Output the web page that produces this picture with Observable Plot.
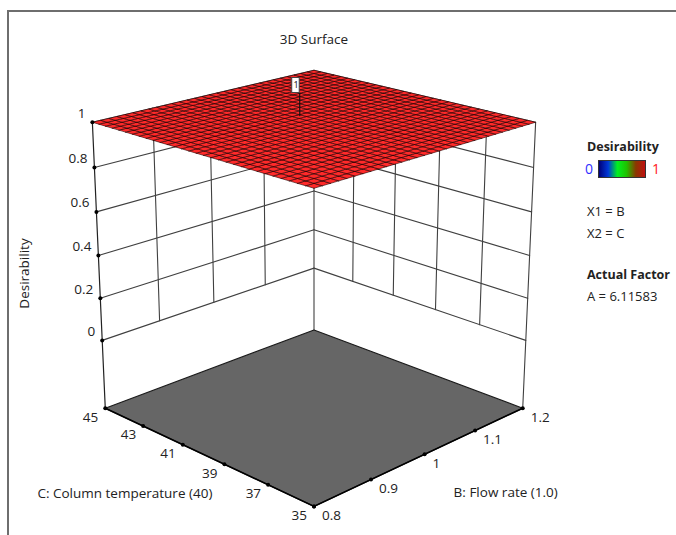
<!DOCTYPE html>
<html><head><meta charset="utf-8">
<script src="https://cdn.jsdelivr.net/npm/d3@7"></script>
<script src="https://cdn.jsdelivr.net/npm/@observablehq/plot@0.6"></script>
<style>
body{margin:0;background:#fff;overflow:hidden;font-family:"Open Sans",sans-serif;}
#wrap{position:relative;width:676px;height:535px;overflow:hidden;}
#frame{position:absolute;left:7px;top:10px;width:720px;height:620px;border:2px solid #6e6e6e;box-sizing:border-box;}
#chart{position:absolute;left:0;top:0;}
.lg{position:absolute;font-size:13px;color:#222;white-space:nowrap;line-height:16px;}
</style></head><body>
<div id="wrap"><div id="frame"></div><div id="chart"></div></div>
<script>
// ---------------- data ----------------
const chartTitle = "3D Surface";
const bTicks = [0.8, 0.9, 1.0, 1.1, 1.2];
const bTickLabels = ["0.8", "0.9", "1", "1.1", "1.2"];
const cTicks = [45, 43, 41, 39, 37, 35];
const cTickLabels = ["45", "43", "41", "39", "37", "35"];
const zTicks = [0, 0.2, 0.4, 0.6, 0.8, 1];
const zTickLabels = ["0", "0.2", "0.4", "0.6", "0.8", "1"];
const bAxisTitle = "B: Flow rate (1.0)";
const cAxisTitle = "C: Column temperature (40)";
const zAxisTitle = "Desirability";
const surfaceDesirability = 1;        // the response is flat at 1 over the whole B x C region
const meshIntervals = 30;             // surface mesh resolution
const flagPoint = {b: 1.01, c: 40.9, value: 1, label: "1"};
const legendTitle = "Desirability";
const legendLow = "0", legendHigh = "1";
const legendStops = ["#00007a", "#0038d8", "#00f020", "#20c000", "#8a3800", "#c01010"];
const factorLines = ["X1 = B", "X2 = C"];
const actualFactorTitle = "Actual Factor";
const actualFactors = [{name: "A", value: 6.11583}];

// ---------------- 3D projection (perspective camera) ----------------
const Bmin = d3.min(bTicks), Bmax = d3.max(bTicks);
const Cmin = d3.min(cTicks), Cmax = d3.max(cTicks);
const zTop = d3.max(zTicks), zFloor = -0.33;
const cam = {elev: 20 * Math.PI / 180, dist: 5.7, focal: 1733, cx: 313.5, cy: 269};
function project(b, c, z) {
  const X = (b - Bmin) / (Bmax - Bmin) - 0.5;
  const Y = (c - Cmin) / (Cmax - Cmin) - 0.5;
  const Z = (z - zFloor) / (zTop - zFloor) - 0.5;
  const a = (X - Y) / Math.SQRT2, d = (X + Y) / Math.SQRT2;
  const s = Math.sin(cam.elev), co = Math.cos(cam.elev);
  const depth = cam.dist + d * co - Z * s;
  return [cam.cx + cam.focal * a / depth, cam.cy - cam.focal * (d * s + Z * co) / depth];
}
const pt = (b, c, z, extra = {}) => { const [x, y] = project(b, c, z); return {x, y, ...extra}; };

// walls
const wall = []; let wid = 0;
for (const z of zTicks) { wall.push(pt(Bmin, Cmax, z, {id: wid}), pt(Bmax, Cmax, z, {id: wid})); wid++; }
for (const b of bTicks.slice(1, -1)) { wall.push(pt(b, Cmax, 0, {id: wid}), pt(b, Cmax, zTop, {id: wid})); wid++; }
for (const z of zTicks) { wall.push(pt(Bmax, Cmax, z, {id: wid}), pt(Bmax, Cmin, z, {id: wid})); wid++; }
for (const c of cTicks.slice(1, -1)) { wall.push(pt(Bmax, c, 0, {id: wid}), pt(Bmax, c, zTop, {id: wid})); wid++; }
for (const [b, c] of [[Bmax, Cmax], [Bmax, Cmin]]) { wall.push(pt(b, c, zFloor, {id: wid}), pt(b, c, zTop, {id: wid})); wid++; }
const zAxisLine = [pt(Bmin, Cmax, zFloor), pt(Bmin, Cmax, zTop)];

// floor
const floor = [[Bmin, Cmin], [Bmax, Cmin], [Bmax, Cmax], [Bmin, Cmax], [Bmin, Cmin]].map(([b, c]) => pt(b, c, zFloor));
const floorFront = [pt(Bmin, Cmax, zFloor), pt(Bmin, Cmin, zFloor), pt(Bmax, Cmin, zFloor)];

// surface cells
const cells = [];
for (let i = 0; i < meshIntervals; i++) for (let j = 0; j < meshIntervals; j++) {
  const b0 = Bmin + (Bmax - Bmin) * i / meshIntervals, b1 = Bmin + (Bmax - Bmin) * (i + 1) / meshIntervals;
  const c0 = Cmin + (Cmax - Cmin) * j / meshIntervals, c1 = Cmin + (Cmax - Cmin) * (j + 1) / meshIntervals;
  const id = i * meshIntervals + j, z = surfaceDesirability;
  for (const [b, c] of [[b0, c0], [b1, c0], [b1, c1], [b0, c1], [b0, c0]]) cells.push(pt(b, c, z, {id, v: z}));
}

// ticks
const zTickPts = zTicks.map((z, i) => pt(Bmin, Cmax, z, {label: zTickLabels[i]}));
const cTickPts = cTicks.map((c, i) => pt(Bmin, c, zFloor, {label: cTickLabels[i]}));
const bTickPts = bTicks.map((b, i) => pt(b, Cmin, zFloor, {label: bTickLabels[i]}));

// flag
const flagBase = pt(flagPoint.b, flagPoint.c, flagPoint.value);
const flagTop = pt(flagPoint.b, flagPoint.c, flagPoint.value + 0.1);
const flagStem = [flagBase, flagTop];
const flagBox = [{x1: flagTop.x - 7.5, x2: flagTop.x, y1: flagTop.y - 15, y2: flagTop.y, label: flagPoint.label}];

const txt = {fontSize: 13.5, fill: "#222", fontFamily: "Open Sans"};
const chart = Plot.plot({
  width: 676, height: 535, margin: 0,
  x: {type: "identity", axis: null}, y: {type: "identity", axis: null},
  style: {background: "transparent", overflow: "visible"},
  marks: [
    Plot.line(wall, {x: "x", y: "y", z: "id", stroke: "#404040", strokeWidth: 1.1}),
    Plot.line(zAxisLine, {x: "x", y: "y", stroke: "#222", strokeWidth: 1.2}),
    Plot.line(floor, {x: "x", y: "y", fill: "#666666", stroke: "#1a1a1a", strokeWidth: 1.2}),
    Plot.line(floorFront, {x: "x", y: "y", stroke: "#000", strokeWidth: 1.6}),
    Plot.line(cells, {x: "x", y: "y", z: "id", fill: "#ff2a2a", stroke: "#200000", strokeWidth: 0.6}),
    Plot.line(flagStem, {x: "x", y: "y", stroke: "#111", strokeWidth: 1.2}),
    Plot.rect(flagBox, {x1: "x1", x2: "x2", y1: "y1", y2: "y2", fill: "white", stroke: "#444", strokeWidth: 1}),
    Plot.text(flagBox, {x: d => (d.x1 + d.x2) / 2, y: d => (d.y1 + d.y2) / 2, text: "label", fontSize: 9, fill: "#222"}),
    Plot.dot(zTickPts, {x: "x", y: "y", r: 2, fill: "#000"}),
    Plot.dot(cTickPts, {x: "x", y: "y", r: 2, fill: "#000"}),
    Plot.dot(bTickPts, {x: "x", y: "y", r: 2, fill: "#000"}),
    Plot.text(zTickPts, {x: "x", y: "y", text: "label", textAnchor: "end", dx: -7, dy: -9, ...txt}),
    Plot.text(cTickPts, {x: "x", y: "y", text: "label", textAnchor: "end", dx: -7, dy: 9, ...txt}),
    Plot.text(bTickPts, {x: "x", y: "y", text: "label", textAnchor: "start", dx: 8, dy: 9, ...txt}),
    Plot.text([pt(Bmin, (Cmin + Cmax) / 2, zFloor, {t: cAxisTitle})], {x: "x", y: "y", text: "t", textAnchor: "end", dx: 9, dy: 39, ...txt}),
    Plot.text([pt((Bmin + Bmax) / 2, Cmin, zFloor, {t: bAxisTitle})], {x: "x", y: "y", text: "t", textAnchor: "start", dx: 29, dy: 38, ...txt}),
    Plot.text([pt(Bmin, Cmax, (zFloor + zTop) / 2, {t: zAxisTitle})], {x: "x", y: "y", text: "t", rotate: -90, dx: -74, dy: 4, ...txt})
  ]
});
document.getElementById("chart").appendChild(chart);

// ---------------- title & legend (HTML) ----------------
const wrap = document.getElementById("wrap");
function addDiv(text, style) {
  const d = document.createElement("div"); d.className = "lg"; d.textContent = text;
  Object.assign(d.style, style); wrap.appendChild(d); return d;
}
addDiv(chartTitle, {left: "314px", top: "31px", transform: "translateX(-50%)", fontSize: "13.5px"});
addDiv(legendTitle, {left: "587px", top: "139px", fontWeight: "bold", fontSize: "12.5px"});
const bar = document.createElement("div");
Object.assign(bar.style, {position: "absolute", left: "598px", top: "160px", width: "48px", height: "18px",
  border: "1px solid #333", boxSizing: "border-box", background: `linear-gradient(to right, ${legendStops.join(",")})`});
wrap.appendChild(bar);
addDiv(legendLow, {left: "585px", top: "161px", color: "#3030ff", fontSize: "14px"});
addDiv(legendHigh, {left: "652px", top: "161px", color: "#ff2020", fontSize: "14px"});
factorLines.forEach((t, i) => addDiv(t, {left: "587px", top: (203 + 22 * i) + "px"}));
addDiv(actualFactorTitle, {left: "587px", top: "267px", fontWeight: "bold", fontSize: "12.5px"});
actualFactors.forEach((f, i) => addDiv(`${f.name} = ${f.value}`, {left: "587px", top: (288 + 21 * i) + "px"}));
</script>
</body></html>
